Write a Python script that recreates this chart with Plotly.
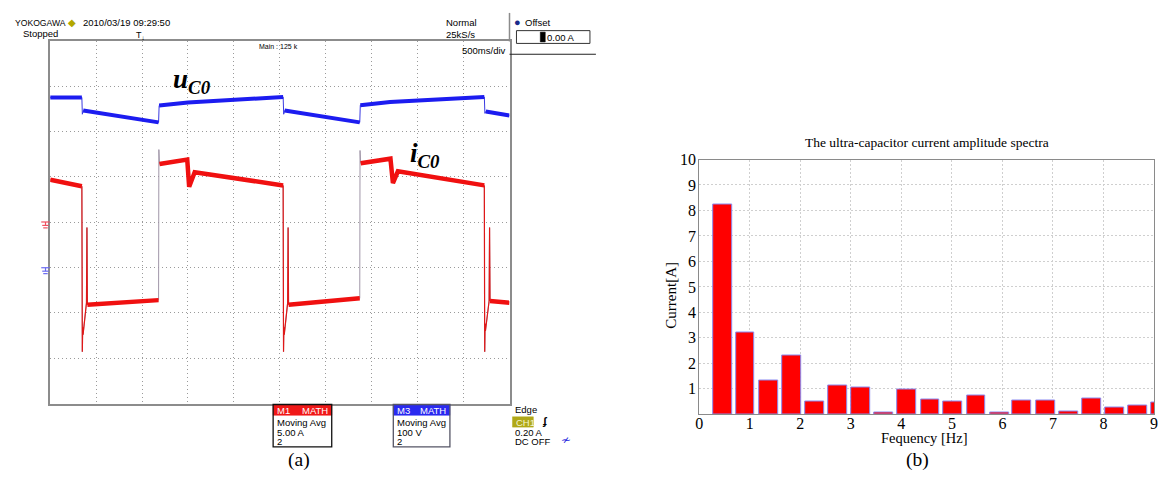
import plotly.graph_objects as go

W, H = 1164, 495

# ---------------- Panel (a): oscilloscope traces ----------------
# time in seconds (500 ms/div, 10 div), current in A (5 A/div), voltage in V (100 V/div)
t_u = [0.000, 0.345, 0.350, 0.360, 1.180, 1.186, 1.500, 2.536, 2.542, 2.552,
       3.370, 3.376, 3.700, 4.726, 4.732, 4.742, 5.000]
u_c0 = [375, 375, 338, 346, 320, 357, 364, 376, 338, 346,
        320, 358, 365, 376, 340, 344, 335]
u_plateaus = [(0, 1), (3, 4), (5, 7), (9, 10), (11, 13), (15, 16)]

t_i = [0.000, 0.345, 0.350, 0.354, 0.358, 0.395, 0.400, 0.405, 1.180, 1.183,
       1.190, 1.492, 1.513, 1.573, 2.536, 2.540, 2.544, 2.548, 2.585, 2.590,
       2.595, 3.370, 3.373, 3.380, 3.704, 3.731, 3.785, 4.726, 4.730, 4.734,
       4.738, 4.778, 4.783, 4.788, 5.000]
i_c0 = [4.67, 3.95, -14.3, -11.6, -12.4, -8.9, -0.6, -9.1, -8.6, 8.0,
        6.4, 6.9, 3.9, 5.5, 4.05, -14.3, -11.6, -12.4, -8.9, -0.6,
        -9.1, -8.4, 7.9, 6.5, 7.0, 4.3, 5.6, 4.05, -14.3, -11.2,
        -12.0, -8.7, -0.6, -8.7, -8.9]
i_plateaus = [(0, 1), (7, 8), (10, 14), (20, 21), (23, 27), (33, 34)]
i_spikes = [(1, 7), (14, 20), (27, 33)]

# ---------------- Panel (b): amplitude spectrum ----------------
freq_hz = [0.46, 0.91, 1.37, 1.83, 2.28, 2.74, 3.20, 3.65, 4.11, 4.57,
           5.02, 5.48, 5.94, 6.39, 6.85, 7.31, 7.76, 8.22, 8.68, 9.13]
amp_a = [8.25, 3.22, 1.32, 2.32, 0.50, 1.14, 1.05, 0.09, 0.97, 0.59,
         0.51, 0.74, 0.09, 0.53, 0.54, 0.13, 0.62, 0.26, 0.36, 0.46]
x_ticks_b = [0, 1, 2, 3, 4, 5, 6, 7, 8, 9]
y_ticks_b = [1, 2, 3, 4, 5, 6, 7, 8, 9, 10]


def px(x):
    return x / W


def py(y):
    return 1 - y / H


def segments(xs, ys, groups):
    ox, oy = [], []
    for a, b in groups:
        ox += xs[a:b + 1] + [None]
        oy += ys[a:b + 1] + [None]
    return ox, oy


fig = go.Figure()

# thin full paths (edges)
fig.add_trace(go.Scatter(x=t_i, y=i_c0, mode="lines", line=dict(color="#a096a8", width=1),
                         xaxis="x", yaxis="y", hoverinfo="skip"))
sx, sy = segments(t_i, i_c0, i_spikes)
fig.add_trace(go.Scatter(x=sx, y=sy, mode="lines", line=dict(color="#e01818", width=1.2),
                         xaxis="x", yaxis="y", hoverinfo="skip"))
px_, py_ = segments(t_i, i_c0, i_plateaus)
fig.add_trace(go.Scatter(x=px_, y=py_, mode="lines", line=dict(color="#f01010", width=4.5),
                         xaxis="x", yaxis="y", hoverinfo="skip"))

fig.add_trace(go.Scatter(x=t_u, y=u_c0, mode="lines", line=dict(color="#3a3ae0", width=1),
                         xaxis="x", yaxis="y3", hoverinfo="skip"))
ux, uy = segments(t_u, u_c0, u_plateaus)
fig.add_trace(go.Scatter(x=ux, y=uy, mode="lines", line=dict(color="#1c1cf0", width=4),
                         xaxis="x", yaxis="y3", hoverinfo="skip"))

# spectrum bars
fig.add_trace(go.Bar(x=freq_hz, y=amp_a, width=0.374,
                     marker=dict(color="#ff0000", line=dict(color="#8a8af0", width=1)),
                     xaxis="x2", yaxis="y2", hoverinfo="skip"))

scope_grid = dict(showgrid=True, gridcolor="#9a9a9a", griddash="1px,3px", gridwidth=1,
                  zeroline=False, showticklabels=False, ticks="",
                  showline=True, mirror=True, linecolor="#8c8c8c", linewidth=1.5)

spec_axis = dict(showgrid=True, gridcolor="#cfcfcf", griddash="2px,2px", zeroline=False,
                 showline=True, mirror=True, linecolor="#8a8a8a", linewidth=1, ticks="",
                 tickfont=dict(family="Liberation Serif", size=16, color="black"))

fig.update_layout(
    width=W, height=H,
    margin=dict(l=0, r=0, t=0, b=0),
    paper_bgcolor="white", plot_bgcolor="white",
    showlegend=False,
    xaxis=dict(domain=[px(46.5), px(509)], range=[0, 5], dtick=0.5, **scope_grid),
    yaxis=dict(domain=[py(402), py(33.3)], range=[-20, 20], dtick=5, **scope_grid),
    yaxis3=dict(overlaying="y", range=[-300, 500], showgrid=False, showticklabels=False,
                zeroline=False, ticks="", showline=False),
    xaxis2=dict(domain=[px(700), px(1158)], range=[0, 9], tickvals=x_ticks_b,
                ticklabelstandoff=-6, anchor="y2", **spec_axis),
    yaxis2=dict(domain=[py(413), py(154)], range=[0, 10], tickvals=y_ticks_b,
                ticklabelstandoff=-1, anchor="x2", **spec_axis),
    bargap=0,
)

ann = []
shapes = []
SANS = "Liberation Sans"
SERIF = "Liberation Serif"


def text(x, y, s, size=9.5, color="black", family=SANS, anchor="left", **kw):
    ann.append(dict(x=px(x), y=py(y), xref="paper", yref="paper", text=s, showarrow=False,
                    xanchor=anchor, yanchor="middle", font=dict(family=family, size=size, color=color), **kw))


def rect(x0, y0, x1, y1, fill=None, line="black", lw=1):
    shapes.append(dict(type="rect", xref="paper", yref="paper", x0=px(x0), x1=px(x1), y0=py(y1), y1=py(y0),
                       fillcolor=fill if fill else "rgba(0,0,0,0)", line=dict(color=line, width=lw), layer="above"))


def line(x0, y0, x1, y1, color="black", lw=1):
    shapes.append(dict(type="line", xref="paper", yref="paper", x0=px(x0), x1=px(x1), y0=py(y0), y1=py(y1),
                       line=dict(color=color, width=lw), layer="above"))


# header texts
text(9, 15, "YOKOGAWA", 8.6)
text(68, 14.5, "◆", 10, color="#b3a800", anchor="center")
text(78, 15, "2010/03/19 09:29:50", 9.5)
text(17, 26, "Stopped", 9.5)
text(131, 28, "T<sub>↓</sub>", 9)
text(443, 15, "Normal", 9.5)
text(443, 26.5, "25kS/s", 9.5)
text(255, 39, "Main : 125 k", 7)
text(507, 43, "500ms/div", 9.5, anchor="right")

# offset panel
line(509, 5, 509, 34, color="#8c8c8c", lw=1.5)
line(509, 47, 596, 47, color="#222222", lw=1.2)
text(517, 14.5, "●", 11, color="#1a2a8a", anchor="center")
text(523, 15, "Offset", 9.5)
rect(516, 23, 590, 36, line="#333333", lw=1)
rect(540, 24.5, 545, 34.5, fill="black", line="black", lw=0.5)
text(545, 30, "0.00 A", 9.5)

# ground markers
for gy, gc in [(217.5, "#f05060"), (264, "#6a6af0")]:
    line(37.5, gy, 46, gy, color=gc, lw=1.2)
    line(41.8, gy, 41.8, gy + 3.5, color=gc, lw=1.2)
    line(38.5, gy + 3.5, 45, gy + 3.5, color=gc, lw=1.2)
    line(39.5, gy + 6, 44, gy + 6, color=gc, lw=1.2)

# trace labels
text(189, 74, "<b><i>u</i></b><sub><b><i>C0</i></b></sub>", 27, family=SERIF, anchor="center")
text(424, 149, "<b><i>i</i></b><sub><b><i>C0</i></b></sub>", 27, family=SERIF, anchor="center")

# math boxes
for x0, x1, hc, bc, lab, scale in [(271, 330, "#f01818", "#111111", "M1", "5.00 A"),
                                   (392, 449, "#2a2af0", "#555566", "M3", "100 V")]:
    rect(x0, 403, x1, 414, fill=hc, line=hc, lw=0.5)
    rect(x0, 403, x1, 446, line=bc, lw=1.3)
    text(x0 + 2, 409, lab, 9.5, color="white")
    text(x1 - 2, 409, "MATH", 9.5, color="white", anchor="right")
    text(x0 + 2, 421, "Moving Avg", 9.5)
    text(x0 + 2, 431, scale, 9.5)
    text(x0 + 2, 441, "2", 9.5)

# trigger info
text(513, 408, "Edge", 9.5)
rect(512, 415.5, 533, 426, fill="#b0a818", line="#b0a818", lw=0.5)
text(514, 421, "CH1", 9.5, color="#f4f4d0")
text(540, 420, "<b>ʄ</b>", 11)
text(513, 431, "0.20 A", 9.5)
text(513, 441, "DC OFF", 9.5)
text(565, 439, "<i>≁</i>", 12, color="#2a2ae0", anchor="center")

# panel (b) texts
text(929, 137, "The ultra-capacitor current amplitude spectra", 13.5, family=SERIF, anchor="center")
text(927, 437, "Fequency [Hz]", 14.5, family=SERIF, anchor="center")
ann.append(dict(x=px(672), y=py(292), xref="paper", yref="paper", text="Current[A]", showarrow=False,
                textangle=-90, xanchor="center", yanchor="middle",
                font=dict(family=SERIF, size=15, color="black")))

# sub-figure labels
text(297, 459, "(a)", 19.5, family=SERIF, anchor="center")
text(920, 459, "(b)", 19.5, family=SERIF, anchor="center")

fig.update_layout(annotations=ann, shapes=shapes)
fig.write_html("out.html", config={"displayModeBar": False},
               post_script="document.body.style.margin='0px';document.body.style.overflow='hidden';")
